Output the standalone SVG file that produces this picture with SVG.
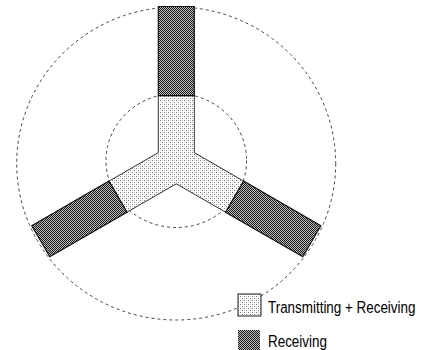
<svg xmlns="http://www.w3.org/2000/svg" width="421" height="350" viewBox="0 0 421 350">
  <style>
    .ring { fill: none; stroke: #444; stroke-width: 1; stroke-dasharray: 3 3; }
    .light { fill: url(#dots); stroke: #333; stroke-width: 1; }
    .dark { fill: url(#checks); stroke: #111; stroke-width: 1.2; }
    .lbl { font-family: "Liberation Sans", Arial, sans-serif; font-size: 17px; fill: #000; }
  </style>
  <defs>
    <pattern id="dots" width="4" height="4" patternUnits="userSpaceOnUse">
      <rect width="4" height="4" fill="#fff"/>
      <rect x="0" y="0" width="1" height="1" fill="#777"/>
      <rect x="2" y="2" width="1" height="1" fill="#777"/>
      <rect x="2" y="0" width="1" height="1" fill="#d0d0d0"/>
      <rect x="0" y="2" width="1" height="1" fill="#d0d0d0"/>
    </pattern>
    <pattern id="checks" width="2" height="2" patternUnits="userSpaceOnUse">
      <rect width="2" height="2" fill="#bbb"/>
      <rect x="0" y="0" width="1" height="1" fill="#1a1a1a"/>
      <rect x="1" y="1" width="1" height="1" fill="#1a1a1a"/>
    </pattern>
  </defs>
  <rect width="421" height="350" fill="#fff"/>

  <g id="outer-ring">
    <ellipse class="ring" cx="176.2" cy="163.5" rx="159.5" ry="156.5"/>
  </g>
  <g id="inner-ring">
    <ellipse class="ring" cx="176.3" cy="160.5" rx="70.3" ry="67"/>
  </g>

  <g id="hub">
    <polygon class="light" points="158.3,95.7 194.3,95.7 194.3,152.6 243.6,181.1 225.6,212.2 176.3,183.8 127,212.2 109,181.1 158.3,152.6"/>
  </g>
  <g id="arm-top">
    <polygon class="dark" points="158.3,6.5 194.3,6.5 194.3,95.7 158.3,95.7"/>
  </g>
  <g id="arm-right">
    <polygon class="dark" points="243.6,181.1 320.8,225.7 302.8,256.8 225.6,212.2"/>
  </g>
  <g id="arm-left">
    <polygon class="dark" points="109,181.1 31.8,225.7 49.8,256.8 127,212.2"/>
  </g>

  <g id="legend-tx">
    <rect x="238" y="294" width="23" height="22" fill="url(#dots)" stroke="#222" stroke-width="1"/>
    <text class="lbl" transform="translate(268,312.5) scale(0.79,1)">Transmitting + Receiving</text>
  </g>
  <g id="legend-rx">
    <rect x="238" y="330" width="22" height="20" fill="url(#checks)"/>
    <text class="lbl" transform="translate(268,346.5) scale(0.79,1)">Receiving</text>
  </g>
</svg>
